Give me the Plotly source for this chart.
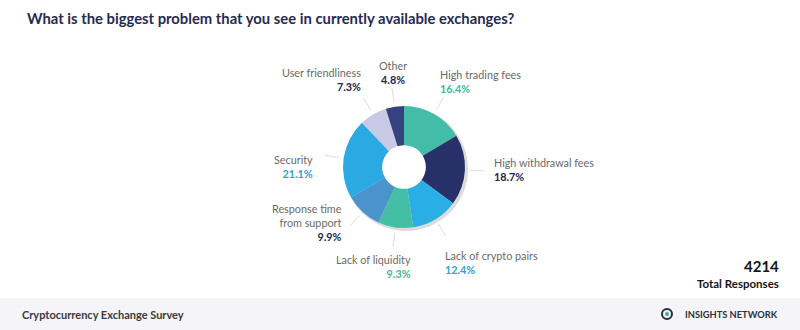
import math
import plotly.graph_objects as go

# ---- data ----
categories = ["High trading fees", "High withdrawal fees", "Lack of crypto pairs",
              "Lack of liquidity", "Response time<br>from support", "Security",
              "User friendliness", "Other"]
values = [16.4, 18.7, 12.4, 9.3, 9.9, 21.1, 7.3, 4.8]
pct_labels = ["16.4%", "18.7%", "12.4%", "9.3%", "9.9%", "21.1%", "7.3%", "4.8%"]
total_responses = "4214"

# ---- styles ----
W, H = 800, 330
CX, CY, R_OUT = 404, 167, 61
HOLE = 0.35
slice_colors = ["#44bda8", "#28306a", "#29aee6", "#44bfa6", "#4a93cb",
                "#2aa9e2", "#c8c9e6", "#35427f"]
pct_colors = ["#45b5a5", "#1f2350", "#2ea2d3", "#45b5a5", "#1f2350",
              "#2ea2d3", "#1f2350", "#1f2350"]
# label anchor style: (xanchor, dx, dy) pixel nudges from radial point
label_style = [("left", -10, -7), ("left", -2, -2), ("left", -8, 18),
               ("right", 21, 10), ("right", 1, -11), ("right", 0, 13),
               ("right", 5, -10), ("center", 3, -6)]
FONT = "Lato"


def px(x):
    return x / W


def py(y):
    return 1 - y / H


fig = go.Figure()
fig.add_trace(go.Pie(
    labels=categories, values=values, sort=False, direction="clockwise",
    rotation=0, hole=HOLE, textinfo="none", hoverinfo="label+value",
    marker=dict(colors=slice_colors, line=dict(width=0)),
    domain=dict(x=[px(CX - R_OUT), px(CX + R_OUT)], y=[py(CY + R_OUT), py(CY - R_OUT)]),
    showlegend=False,
))

shapes = []
# soft shadow
shapes.append(dict(type="circle", xref="paper", yref="paper", layer="below",
                   x0=px(CX - R_OUT + 1), x1=px(CX + R_OUT + 3),
                   y0=py(CY + R_OUT + 3), y1=py(CY - R_OUT + 1),
                   fillcolor="#dcdcdc", line=dict(width=0)))
# keep the hole clean
rh = R_OUT * HOLE + 0.5
shapes.append(dict(type="circle", xref="paper", yref="paper", layer="above",
                   x0=px(CX - rh), x1=px(CX + rh), y0=py(CY + rh), y1=py(CY - rh),
                   fillcolor="white", line=dict(width=0)))
# footer band
shapes.append(dict(type="rect", xref="paper", yref="paper", layer="below",
                   x0=0, x1=1, y0=0, y1=py(298), fillcolor="#f4f4f9", line=dict(width=0)))
# logo
shapes.append(dict(type="circle", xref="paper", yref="paper",
                   x0=px(662), x1=px(672), y0=py(319), y1=py(309),
                   fillcolor="#f4f4f9", line=dict(color="#2a2d45", width=2)))
shapes.append(dict(type="circle", xref="paper", yref="paper",
                   x0=px(665), x1=px(669), y0=py(316), y1=py(312),
                   fillcolor="#3fae96", line=dict(width=0)))

annotations = []
total = sum(values)
cum = 0.0
for i, v in enumerate(values):
    mid = (cum + v / 2) / total * 2 * math.pi
    cum += v
    s, c = math.sin(mid), math.cos(mid)
    # leader line
    shapes.append(dict(type="line", xref="paper", yref="paper",
                       x0=px(CX + 66 * s), y0=py(CY - 66 * c),
                       x1=px(CX + 80 * s), y1=py(CY - 80 * c),
                       line=dict(color="#dddddd", width=1)))
    xa, dx, dy = label_style[i]
    lx = CX + 90 * s + dx
    ly = CY - 90 * c + dy
    text = (f"<span style='color:#6a6a6a'>{categories[i]}</span><br>"
            f"<b><span style='color:{pct_colors[i]}'>{pct_labels[i]}</span></b>")
    annotations.append(dict(xref="paper", yref="paper", x=px(lx), y=py(ly),
                            xanchor=xa, yanchor="middle", align=xa,
                            showarrow=False, text=text,
                            font=dict(family=FONT, size=10.8, color="#6a6a6a")))

annotations += [
    dict(xref="paper", yref="paper", x=px(25), y=py(18), xanchor="left", yanchor="middle",
         showarrow=False, text="<b>What is the biggest problem that you see in currently available exchanges?</b>",
         font=dict(family=FONT, size=14.8, color="#272a52")),
    dict(xref="paper", yref="paper", x=px(781), y=py(266), xanchor="right", yanchor="middle",
         showarrow=False, text=f"<b>{total_responses}</b>",
         font=dict(family=FONT, size=15, color="#151515")),
    dict(xref="paper", yref="paper", x=px(781), y=py(283), xanchor="right", yanchor="middle",
         showarrow=False, text="<b>Total Responses</b>",
         font=dict(family=FONT, size=11.5, color="#151515")),
    dict(xref="paper", yref="paper", x=px(20), y=py(314), xanchor="left", yanchor="middle",
         showarrow=False, text="<b>Cryptocurrency Exchange Survey</b>",
         font=dict(family=FONT, size=11, color="#3a3a3a")),
    dict(xref="paper", yref="paper", x=px(780), y=py(314), xanchor="right", yanchor="middle",
         showarrow=False, text="<b>INSIGHTS NETWORK</b>",
         font=dict(family=FONT, size=9.3, color="#2f3040")),
]

fig.update_layout(width=W, height=H, margin=dict(l=0, r=0, t=0, b=0),
                  paper_bgcolor="white", plot_bgcolor="white",
                  shapes=shapes, annotations=annotations)
fig.write_html("out.html")
